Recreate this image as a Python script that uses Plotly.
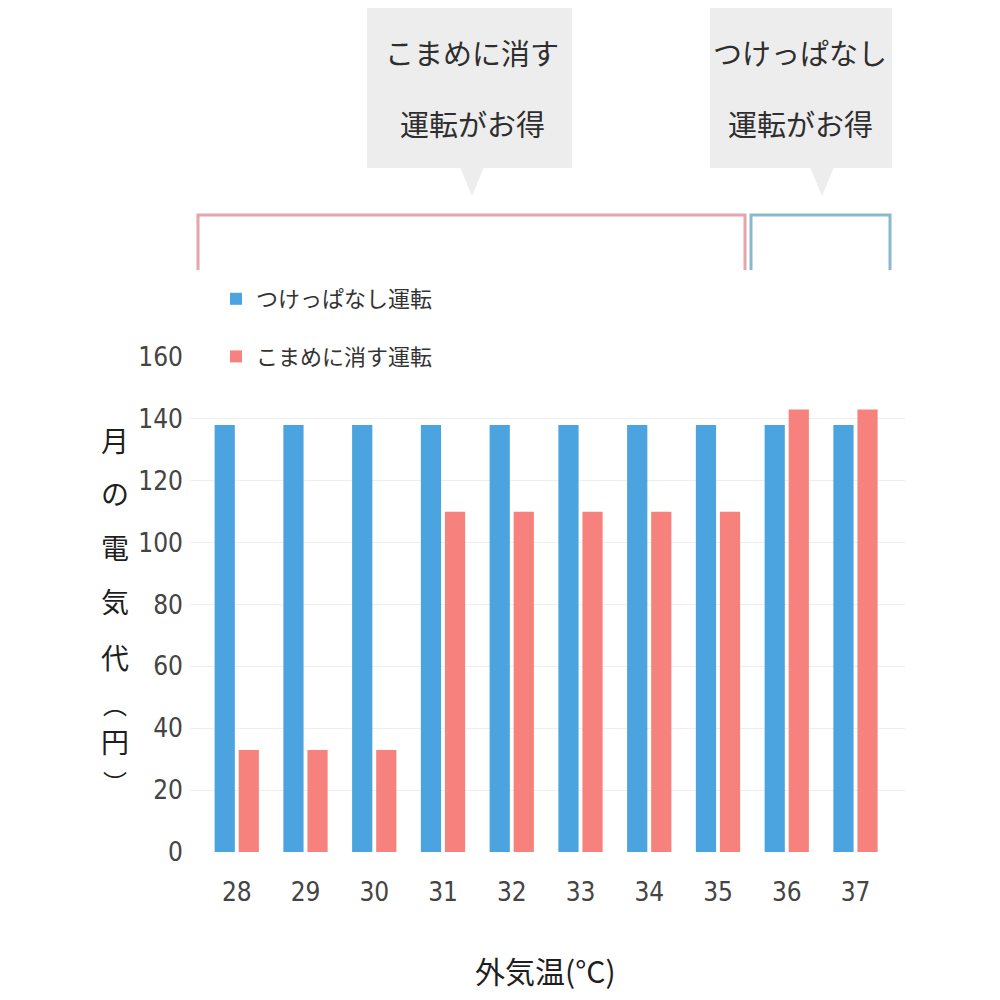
import plotly.graph_objects as go

# ---- data ----
temps = ["28", "29", "30", "31", "32", "33", "34", "35", "36", "37"]
always_on = [138, 138, 138, 138, 138, 138, 138, 138, 138, 138]
frequent_off = [33, 33, 33, 110, 110, 110, 110, 110, 143, 143]
series_names = ["つけっぱなし運転", "こまめに消す運転"]
y_ticks = [0, 20, 40, 60, 80, 100, 120, 140, 160]
y_title_chars = ["月", "の", "電", "気", "代", "︵", "円", "︶"]
x_title = "外気温(°C)"
box_left_lines = ["こまめに消す", "運転がお得"]
box_right_lines = ["つけっぱなし", "運転がお得"]

BLUE = "#4ba3df"
RED = "#f7827d"
JP = "Noto Sans CJK JP, Noto Sans, sans-serif"
NUM = "Liberation Sans Narrow, DejaVu Sans Condensed, Liberation Sans, sans-serif"

# page body has an 8px margin; target pixel positions are measured from the window
OFF = 8
# layout geometry (target window pixels)
PL, PR, PT, PB = 190, 905, 357, 852
W = H = 1000
L = PL - OFF
T = PT - OFF
R = W - (PR - OFF)
B = H - (PB - OFF)
PW = PR - PL
PH = PB - PT


def PX(x):
    return (x - PL) / PW


def PY(y):
    return (PB - y) / PH


fig = go.Figure()
fig.add_trace(go.Bar(x=temps, y=always_on, name=series_names[0], marker_color=BLUE,
                     marker_line_width=0, legendgroup="a"))
fig.add_trace(go.Bar(x=temps, y=frequent_off, name=series_names[1], marker_color=RED,
                     marker_line_width=0, legendgroup="b"))

shapes = []
# gray speech boxes
for (x0, x1, tip) in [(367, 572, 472), (710, 892, 822)]:
    shapes.append(dict(type="rect", xref="paper", yref="paper",
                       x0=PX(x0), x1=PX(x1), y0=PY(168), y1=PY(-20),
                       fillcolor="#ededed", line_width=0, layer="below"))
    shapes.append(dict(type="path", xref="paper", yref="paper",
                       path=f"M {PX(tip-12)},{PY(167)} L {PX(tip+12)},{PY(167)} L {PX(tip)},{PY(196)} Z",
                       fillcolor="#ededed", line_width=0, layer="below"))
# brackets
shapes.append(dict(type="path", xref="paper", yref="paper",
                   path=f"M {PX(198)},{PY(270)} L {PX(198)},{PY(215)} L {PX(745)},{PY(215)} L {PX(745)},{PY(270)}",
                   line=dict(color="#e6a4ac", width=3)))
shapes.append(dict(type="path", xref="paper", yref="paper",
                   path=f"M {PX(751)},{PY(270)} L {PX(751)},{PY(215)} L {PX(890)},{PY(215)} L {PX(890)},{PY(270)}",
                   line=dict(color="#88b9d0", width=3)))

annotations = []
for lines, cx in [(box_left_lines, 472), (box_right_lines, 800)]:
    for i, t in enumerate(lines):
        annotations.append(dict(xref="paper", yref="paper", x=PX(cx), y=PY(52 + 71 * i),
                                text=t, showarrow=False, xanchor="center", yanchor="middle",
                                font=dict(family=JP, size=29, color="#2e2e2e")))
ys = [440, 493, 547, 601, 657, 703, 741, 781]
for ch, yy in zip(y_title_chars, ys):
    sz = 24 if ch in ("︵", "︶") else 28
    annotations.append(dict(xref="paper", yref="paper", x=PX(115), y=PY(yy), text=ch,
                            showarrow=False, xanchor="center", yanchor="middle",
                            font=dict(family=JP, size=sz, color="#1e1e1e")))
annotations.append(dict(xref="paper", yref="paper", x=PX(545), y=PY(970), text=x_title,
                        showarrow=False, xanchor="center", yanchor="middle",
                        font=dict(family=JP, size=30, color="#1e1e1e")))

fig.update_layout(
    width=W, height=H,
    margin=dict(l=L, r=R, t=T, b=B, pad=0),
    paper_bgcolor="white", plot_bgcolor="white",
    barmode="group", bargap=0.3, bargroupgap=0.16,
    showlegend=True,
    legend=dict(x=PX(216), y=PY(278), xanchor="left", yanchor="top",
                orientation="v", tracegroupgap=26, traceorder="grouped",
                font=dict(family=JP, size=22, color="#333333"), bgcolor="rgba(0,0,0,0)"),
    shapes=shapes, annotations=annotations,
    xaxis=dict(type="category", range=[-0.68, 9.72], showgrid=False, showline=False,
               ticks="", tickfont=dict(family=NUM, size=26, color="#444444"),
               ticklabelstandoff=22, zeroline=False),
    yaxis=dict(range=[0, 160], tickvals=y_ticks, showgrid=True, gridcolor="#eeeeee",
               gridwidth=1, zeroline=False, showline=False, ticks="",
               tickfont=dict(family=NUM, size=26, color="#444444"), ticklabelstandoff=6),
)

fig.write_html("out.html")
